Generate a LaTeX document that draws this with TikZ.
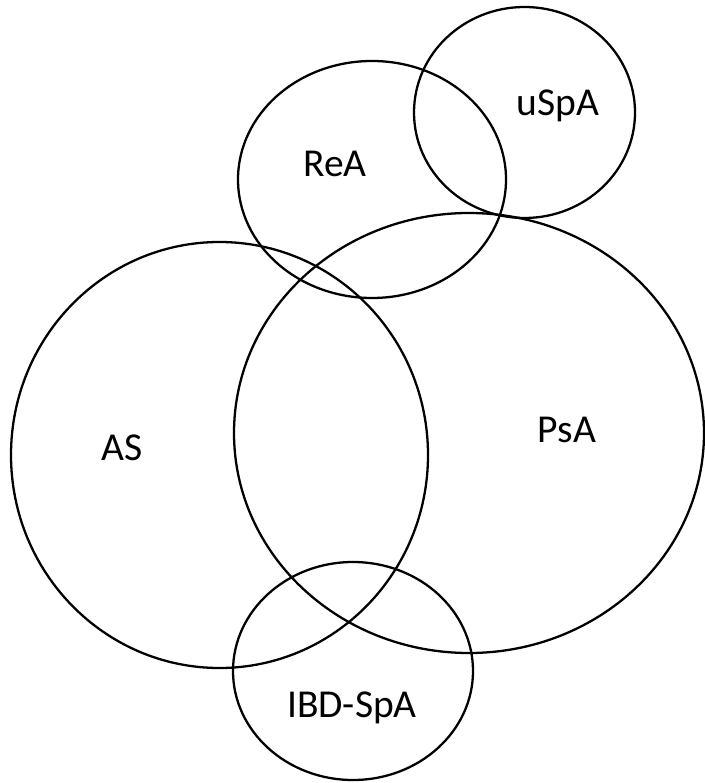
\documentclass[tikz,border=0pt]{standalone}
\usepackage{fontspec}
\setmainfont{Carlito}
\usepackage{tikz}

\begin{document}
\begin{tikzpicture}[
  x=0.02cm, y=-0.02cm,
  set/.style={draw,line width=1.3pt},
  lbl/.style={anchor=base,inner sep=0pt,font=\fontsize{22.5}{27}\selectfont}
]
  \useasboundingbox (0,0) rectangle (704,783);

  % sets
  \draw[set] (219.5,455) ellipse [x radius=208.5, y radius=213];
  \draw[set] (469,433) ellipse [x radius=235, y radius=220];
  \draw[set] (372,179.5) ellipse [x radius=134, y radius=118.5];
  \draw[set] (524.5,112.5) ellipse [x radius=110.5, y radius=105.5];
  \draw[set] (353,671) ellipse [x radius=120, y radius=109];

  % labels
  \node[lbl] (as) at (122,460) {AS};
  \node[lbl] (psa) at (567,442) {PsA};
  \node[lbl] (rea) at (335,177) {ReA};
  \node[lbl] (uspa) at (558,116) {uSpA};
  \node[lbl] (ibd) at (352,717) {IBD-SpA};
\end{tikzpicture}
\end{document}
